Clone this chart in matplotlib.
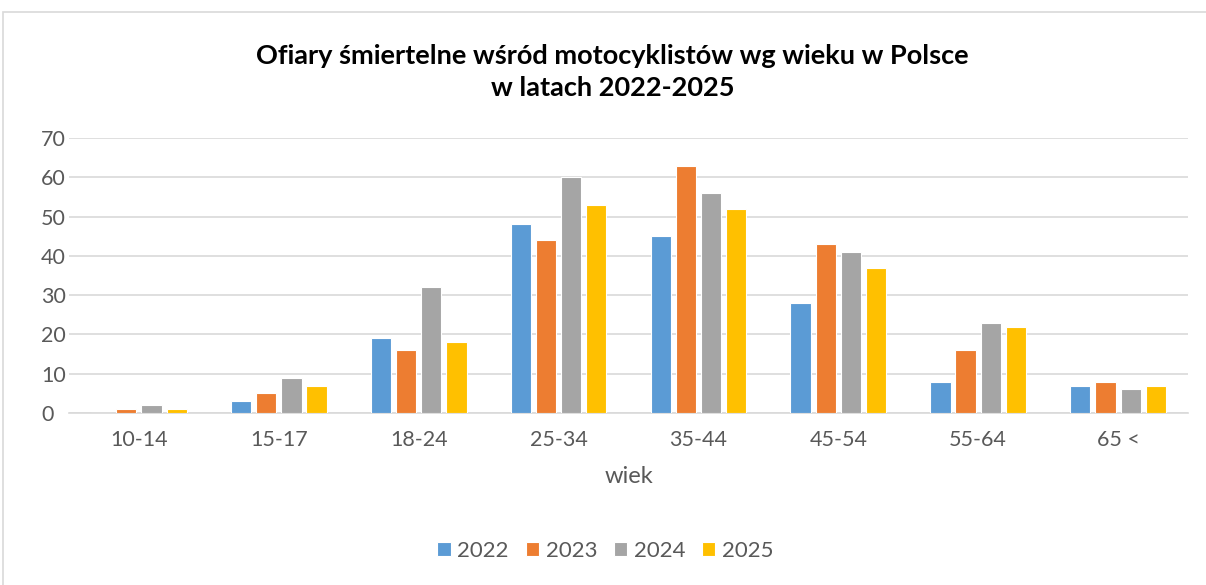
import numpy as np
import matplotlib
matplotlib.use("Agg")
import matplotlib.pyplot as plt
from matplotlib.patches import Rectangle

# ---- data ----
age_groups = ["10-14", "15-17", "18-24", "25-34", "35-44", "45-54", "55-64", "65 <"]
years = ["2022", "2023", "2024", "2025"]
deaths_2022 = [0, 3, 19, 48, 45, 28, 8, 7]
deaths_2023 = [1, 5, 16, 44, 63, 43, 16, 8]
deaths_2024 = [2, 9, 32, 60, 56, 41, 23, 6]
deaths_2025 = [1, 7, 18, 53, 52, 37, 22, 7]
series = [deaths_2022, deaths_2023, deaths_2024, deaths_2025]

# ---- palette ----
COLORS = ["#5B9BD5", "#ED7D31", "#A5A5A5", "#FFC000"]
GRID = "#D9D9D9"
TXT = "#595959"

plt.rcParams.update({"font.family": ["Lato", "DejaVu Sans"]})

fig = plt.figure(figsize=(12.06, 5.85), dpi=100)
fig.patch.set_facecolor("white")
fig.add_artist(Rectangle((3 / 1206, -0.01), 1.1, 1 - 12 / 585 + 0.01, transform=fig.transFigure,
                         fill=False, edgecolor=GRID, lw=1.2))

ax = fig.add_axes([69 / 1206, 172 / 585, 1119 / 1206, 275 / 585])
x = np.arange(len(age_groups))
step, width = 0.18, 0.145
for i, (vals, yr, c) in enumerate(zip(series, years, COLORS)):
    ax.bar(x + (i - 1.5) * step, vals, width, color=c, label=yr,
           edgecolor="white", linewidth=0.8, zorder=3)

ax.set_xlim(-0.5, len(age_groups) - 0.5)
ax.set_ylim(0, 70)
ax.set_yticks(range(0, 71, 10))
ax.yaxis.grid(True, color=GRID, lw=1.2, zorder=0)
ax.set_xticks(x)
ax.set_xticklabels(age_groups)
ax.tick_params(length=0, labelsize=15.5, labelcolor=TXT)
ax.tick_params(axis="y", pad=20)
ax.tick_params(axis="x", pad=12)
for lbl in ax.get_yticklabels():
    lbl.set_horizontalalignment("left")
for s in ["top", "right", "left"]:
    ax.spines[s].set_visible(False)
ax.spines["bottom"].set_color(GRID)
ax.spines["bottom"].set_linewidth(1.2)

ax.set_xlabel("wiek", fontsize=17, color=TXT, labelpad=12)
fig.text(0.508, 1 - 72 / 585, "Ofiary śmiertelne wśród motocyklistów wg wieku w Polsce\nw latach 2022-2025",
         ha="center", va="center", fontsize=19.5, weight="bold", color="black", linespacing=1.35)

fig.legend(loc="center", bbox_to_anchor=(0.502, 1 - 551 / 585), ncol=4, frameon=False,
           fontsize=16, labelcolor=TXT, handlelength=0.6, handleheight=0.6,
           handletextpad=0.3, columnspacing=0.75)

fig.savefig("out.png", dpi=100, facecolor="white")
